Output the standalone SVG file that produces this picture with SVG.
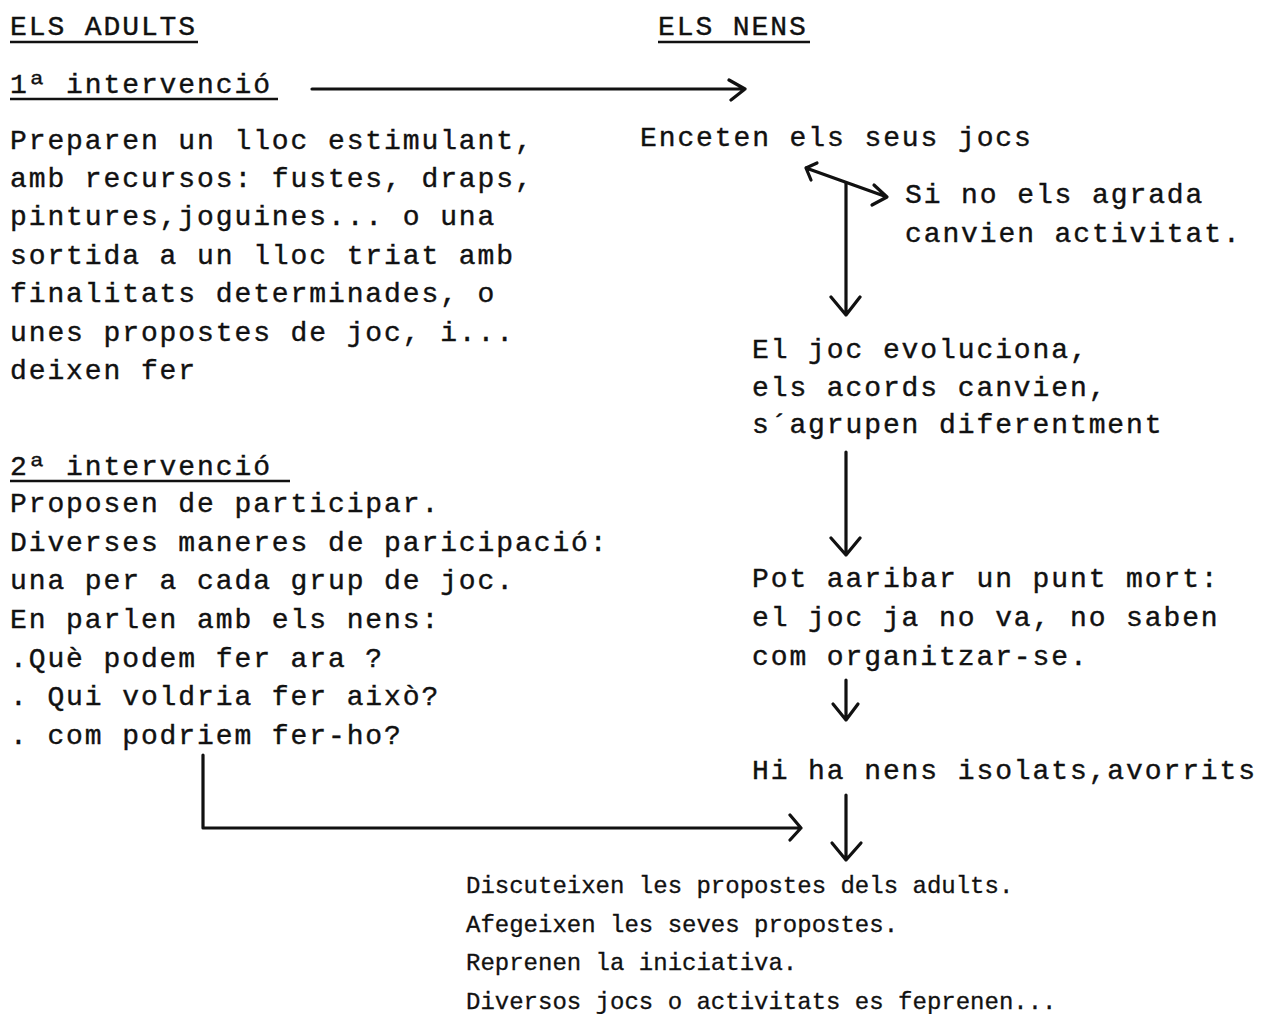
<svg xmlns="http://www.w3.org/2000/svg" width="1263" height="1014" viewBox="0 0 1263 1014">
  <style>
    .t { font-family: "Liberation Mono", "DejaVu Sans Mono", monospace; font-size: 28px; letter-spacing: 1.9px; fill: #111; stroke: #111; stroke-width: 0.4px; }
    .b { font-family: "Liberation Mono", "DejaVu Sans Mono", monospace; font-size: 24px; letter-spacing: 0px; fill: #111; stroke: #111; stroke-width: 0.3px; }
    .ul { stroke: #111; stroke-width: 2.5; fill: none; }
    .ln { stroke: #111; stroke-width: 3.2; fill: none; stroke-linecap: round; stroke-linejoin: round; }
  </style>
  <rect width="1263" height="1014" fill="#fff"/>

  <!-- column headings -->
  <g id="head-adults">
    <text class="t" x="10" y="35">ELS ADULTS</text>
    <line class="ul" x1="10" y1="42" x2="198" y2="42"/>
  </g>
  <g id="head-nens">
    <text class="t" x="658" y="35">ELS NENS</text>
    <line class="ul" x1="658" y1="42" x2="810" y2="42"/>
  </g>

  <!-- first intervention -->
  <g id="int1">
    <text class="t" x="10" y="93">1ª intervenció</text>
    <line class="ul" x1="10" y1="99" x2="278" y2="99"/>
  </g>
  <g id="adults1">
    <text class="t" x="10" y="149">Preparen un lloc estimulant,</text>
    <text class="t" x="10" y="187">amb recursos: fustes, draps,</text>
    <text class="t" x="10" y="225">pintures,joguines... o una</text>
    <text class="t" x="10" y="264">sortida a un lloc triat amb</text>
    <text class="t" x="10" y="302">finalitats determinades, o</text>
    <text class="t" x="10" y="341">unes propostes de joc, i...</text>
    <text class="t" x="10" y="379">deixen fer</text>
  </g>

  <!-- second intervention -->
  <g id="int2">
    <text class="t" x="10" y="475">2ª intervenció</text>
    <line class="ul" x1="10" y1="481" x2="290" y2="481"/>
  </g>
  <g id="adults2">
    <text class="t" x="10" y="512">Proposen de participar.</text>
    <text class="t" x="10" y="551">Diverses maneres de paricipació:</text>
    <text class="t" x="10" y="589">una per a cada grup de joc.</text>
    <text class="t" x="10" y="628">En parlen amb els nens:</text>
    <text class="t" x="10" y="667">.Què podem fer ara ?</text>
    <text class="t" x="10" y="705">. Qui voldria fer això?</text>
    <text class="t" x="10" y="744">. com podriem fer-ho?</text>
  </g>

  <!-- children column -->
  <g id="nens1">
    <text class="t" x="640" y="146">Enceten els seus jocs</text>
  </g>
  <g id="nens-canvi">
    <text class="t" x="905" y="203">Si no els agrada</text>
    <text class="t" x="905" y="242">canvien activitat.</text>
  </g>
  <g id="nens2">
    <text class="t" x="752" y="358">El joc evoluciona,</text>
    <text class="t" x="752" y="396">els acords canvien,</text>
    <text class="t" x="752" y="433">s´agrupen diferentment</text>
  </g>
  <g id="nens3">
    <text class="t" x="752" y="587">Pot aaribar un punt mort:</text>
    <text class="t" x="752" y="626">el joc ja no va, no saben</text>
    <text class="t" x="752" y="665">com organitzar-se.</text>
  </g>
  <g id="nens4">
    <text class="t" x="752" y="779">Hi ha nens isolats,avorrits</text>
  </g>
  <g id="nens5">
    <text class="b" x="466" y="893">Discuteixen les propostes dels adults.</text>
    <text class="b" x="466" y="932">Afegeixen les seves propostes.</text>
    <text class="b" x="466" y="970">Reprenen la iniciativa.</text>
    <text class="b" x="466" y="1009">Diversos jocs o activitats es feprenen...</text>
  </g>

  <!-- connectors: straight strokes with open chevron heads -->
  <g id="connectors">
    <path class="ln" d="M312 89 H745 M729 80 L745 89 L731 100"/>
    <path class="ln" d="M806 168 L887 197 M817 163 L806 168 L811 180 M874 185 L887 197 L872 205"/>
    <path class="ln" d="M846 183 V315 M831 297 L846 315 L860 297"/>
    <path class="ln" d="M846 452 V555 M831 538 L846 555 L860 538"/>
    <path class="ln" d="M846 680 V720 M833 704 L846 720 L858 704"/>
    <path class="ln" d="M846 795 V860 M832 843 L846 860 L861 843"/>
    <path class="ln" d="M203 755 V828 H801 M790 815 L801 828 L790 840"/>
  </g>
</svg>
